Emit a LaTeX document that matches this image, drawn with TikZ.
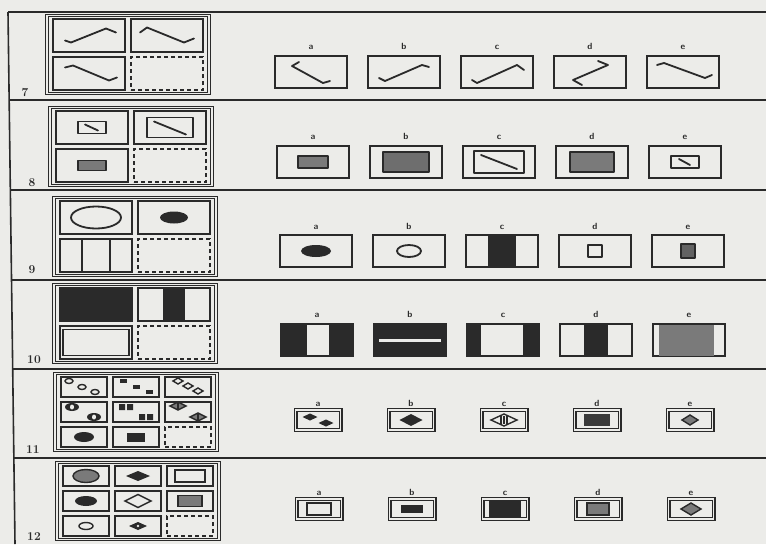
\documentclass[tikz,border=0pt]{standalone}
\usepackage{tikz}
\usetikzlibrary{positioning,fit}
\definecolor{paper}{HTML}{ECECE9}
\definecolor{ink}{HTML}{2A2A2A}
\definecolor{tone}{HTML}{7A7A7A}
\tikzset{
  rule/.style={draw=ink, line width=1.2pt},
  mframe/.style={draw=ink, line width=1.3pt, double=paper, double distance=1.3pt, inner xsep=5pt, inner ysep=2.5pt},
  cellbox/.style={draw=ink, line width=2pt, inner sep=0pt},
  cellbig/.style={cellbox, minimum width=72pt, minimum height=33pt},
  cellsm/.style={cellbox, minimum width=46pt, minimum height=20pt},
  emptycell/.style={dash pattern=on 4pt off 3pt},
  ans/.style={cellbox, minimum width=72pt, minimum height=32pt},
  anssm/.style={draw=ink, line width=1.4pt, double=paper, double distance=1.2pt, inner sep=0pt, minimum width=45pt, minimum height=20pt},
  lab/.style={font=\small\sffamily\bfseries, text=ink, inner sep=0pt},
  num/.style={font=\large\bfseries, text=ink, inner sep=0pt},
  wire/.style={draw=ink, line width=1.8pt, line join=round, line cap=round},
  fine/.style={draw=ink, line width=1.4pt},
}

\begin{document}
\begin{tikzpicture}[x=1pt, y=-1pt]
  \useasboundingbox (0,0) rectangle (766,544);
  \fill[paper] (0,0) rectangle (766,544);
  % page rules
  \coordinate (top) at (8,12);
  \coordinate (bot) at (15,544);
  \draw[rule, line width=1.6pt] (top) -- (bot);
  \draw[rule] (top) -- (766,12);
  \foreach \y/\x in {100/9, 190/10, 280/12, 369/13, 458/14}
    \draw[rule] (\x,\y) -- (766,\y);
  % item numbers
  \node[num] (n7) at (25,93) {7};
  \node[num] (n8) at (32,183) {8};
  \node[num] (n9) at (32,270) {9};
  \node[num] (n10) at (34,360) {10};
  \node[num] (n11) at (33,450) {11};
  \node[num] (n12) at (34,537) {12};
  % 2x2 matrices
  \foreach \r/\x/\y in {7/89/35.5, 8/92/127.5, 9/96/217.5, 10/96/304.5} {
    \node[cellbig] (c\r a) at (\x,\y) {};
    \node[cellbig, right=4pt of c\r a] (c\r b) {};
    \node[cellbig, below=3pt of c\r a] (c\r c) {};
    \node[cellbig, emptycell, right=4pt of c\r c] (c\r d) {};
    \node[mframe, fit=(c\r a)(c\r d)] (m\r) {};
  }
  % 3x3 matrices
  \foreach \r/\x/\y in {11/84/387, 12/86/476} {
    \node[cellsm] (c\r a) at (\x,\y) {};
    \node[cellsm, right=4pt of c\r a] (c\r b) {};
    \node[cellsm, right=4pt of c\r b] (c\r c) {};
    \node[cellsm, below=3pt of c\r a] (c\r d) {};
    \node[cellsm, right=4pt of c\r d] (c\r e) {};
    \node[cellsm, right=4pt of c\r e] (c\r f) {};
    \node[cellsm, below=3pt of c\r d] (c\r g) {};
    \node[cellsm, right=4pt of c\r g] (c\r h) {};
    \node[cellsm, emptycell, right=4pt of c\r h] (c\r i) {};
    \node[mframe, fit=(c\r a)(c\r i)] (m\r) {};
  }
  % answer boxes a-e
  \foreach \r/\x/\y/\s/\d in {7/311/72/ans/5pt, 8/313/162/ans/5pt, 9/316/251/ans/4pt,
      10/317/340/ans/5pt, 11/318/420/anssm/3pt, 12/319/509/anssm/3pt}
    \foreach \l [count=\i from 0] in {a,b,c,d,e} {
      \node[\s] (a\r\l) at ({\x+93*\i},\y) {};
      \node[lab, above=\d of a\r\l] (t\r\l) {\l};
    }

  % item 7
  \draw[wire] (c7a.center) +(-24,5) -- +(-18,7) -- +(17,-7) -- +(27,-3);
  \draw[wire] (c7b.center) +(-27,-3) -- +(-20,-8) -- +(17,7) -- +(27,3);
  \draw[wire] (c7c.center) +(-24,-6) -- +(-16,-8) -- +(20,7) -- +(28,4);
  \draw[wire] (a7a.center) +(-12,-10) -- +(-19,-6) -- +(12,11) -- +(19,9);
  \draw[wire] (a7b.center) +(-25,6) -- +(-19,9) -- +(18,-7) -- +(25,-5);
  \draw[wire] (a7c.center) +(-25,8) -- +(-20,11) -- +(20,-7) -- +(27,-2);
  \draw[wire] (a7d.center) +(8,-11) -- +(18,-7) -- +(-17,8) -- +(-8,13);
  \draw[wire] (a7e.center) +(-26,-7) -- +(-19,-9) -- +(22,6) -- +(29,3);

  % item 8
  \draw[wire] (c8a.center) +(-14,-6) rectangle +(14,6);
  \draw[wire] (c8a.center) +(-7,-3) -- +(6,3);
  \draw[wire] (c8b.center) +(-23,-10) rectangle +(23,10);
  \draw[wire] (c8b.center) +(-16,-6) -- +(16,7);
  \filldraw[wire, fill=tone] (c8c.center) +(-14,-5) rectangle +(14,5);
  \filldraw[wire, fill=tone] (a8a.center) +(-15,-6) rectangle +(15,6);
  \filldraw[wire, fill=tone!85!ink] (a8b.center) +(-23,-10) rectangle +(23,10);
  \draw[wire] (a8c.center) +(-25,-11) rectangle +(25,11);
  \draw[wire] (a8c.center) +(-18,-7) -- +(18,7);
  \filldraw[wire, fill=tone] (a8d.center) +(-22,-10) rectangle +(22,10);
  \draw[wire] (a8e.center) +(-14,-6) rectangle +(14,6);
  \draw[wire] (a8e.center) +(-6,-3) -- +(5,3);

  % item 9
  \draw[wire] (c9a.center) ellipse[x radius=25pt, y radius=11pt];
  \fill[ink] (c9b.center) ellipse[x radius=14pt, y radius=6pt];
  \draw[wire] (c9c.center) +(-14,-16) rectangle +(14,16);
  \fill[ink] (a9a.center) ellipse[x radius=15pt, y radius=6pt];
  \draw[wire] (a9b.center) ellipse[x radius=12pt, y radius=6pt];
  \filldraw[wire, fill=ink] (a9c.center) +(-13,-15.5) rectangle +(13,15.5);
  \draw[wire] (a9d.center) +(-7,-6) rectangle +(7,6);
  \filldraw[wire, fill=tone!70!ink] (a9e.center) +(-7,-7) rectangle +(7,7);

  % item 10
  \fill[ink] (c10a.center) +(-35,-15.5) rectangle +(35,15.5);
  \fill[ink] (c10b.center) +(-11,-15.5) rectangle +(11,15.5);
  \draw[fine] (c10c.center) +(-33,-13) rectangle +(33,13);
  \fill[ink] (a10a.center) +(-35,-15.5) rectangle +(-10,15.5);
  \fill[ink] (a10a.center) +(12,-15.5) rectangle +(35,15.5);
  \fill[ink] (a10b.center) +(-35,-15.5) rectangle +(35,15.5);
  \fill[paper] (a10b.center) +(-31,-1.5) rectangle +(31,1.5);
  \fill[ink] (a10c.center) +(-35,-15.5) rectangle +(-22,15.5);
  \fill[ink] (a10c.center) +(20,-15.5) rectangle +(35,15.5);
  \fill[ink] (a10d.center) +(-12,-15.5) rectangle +(12,15.5);
  \fill[tone] (a10e.center) +(-30,-15.5) rectangle +(25,15.5);

  % item 11
  \foreach \x/\y in {-15/-6, -2/0, 11/5}
    \draw[fine] (c11a.center) ++(\x,\y) ellipse[x radius=4pt, y radius=2.5pt];
  \foreach \x/\y in {-13/-6, 0/0, 13/5}
    \fill[ink] (c11b.center) ++(\x,\y) +(-3.5,-2) rectangle +(3.5,2);
  \foreach \x/\y in {-10/-6, 0/-1, 10/4}
    \draw[fine] (c11c.center) ++(\x,\y) +(-5,0) -- +(0,-3) -- +(5,0) -- +(0,3) -- cycle;
  \foreach \x/\y in {-12/-5, 10/5} {
    \fill[ink] (c11d.center) ++(\x,\y) ellipse[x radius=7pt, y radius=4pt];
    \fill[paper] (c11d.center) ++(\x,\y) ellipse[x radius=2pt, y radius=2.5pt];
  }
  \foreach \x/\y in {-10/-5, 10/5}
    \fill[ink] (c11e.center) ++(\x,\y) +(-7,-3) rectangle +(-1,3) +(1,-3) rectangle +(7,3);
  \foreach \x/\y in {-10/-6, 10/5} {
    \filldraw[fine, fill=tone] (c11f.center) ++(\x,\y) +(-8,0) -- +(0,-4) -- +(8,0) -- +(0,4) -- cycle;
    \draw[fine] (c11f.center) ++(\x,\y) +(0,-4) -- +(0,4);
  }
  \fill[ink] (c11g.center) ellipse[x radius=10pt, y radius=5pt];
  \fill[ink] (c11h.center) +(-9,-4.5) rectangle +(9,4.5);
  \foreach \x/\y in {-8/-3, 8/3}
    \fill[ink] (a11a.center) ++(\x,\y) +(-7.5,0) -- +(0,-3.5) -- +(7.5,0) -- +(0,3.5) -- cycle;
  \fill[ink] (a11b.center) +(-11.5,0) -- +(0,-6) -- +(11.5,0) -- +(0,6) -- cycle;
  \draw[fine] (a11c.center) +(-13,0) -- +(0,-6) -- +(13,0) -- +(0,6) -- cycle;
  \foreach \x in {-3,0,3}
    \draw[fine] (a11c.center) +(\x,-4) -- +(\x,4);
  \fill[ink!80!tone] (a11d.center) +(-13,-6) rectangle +(13,6);
  \filldraw[fine, fill=tone] (a11e.center) +(-8,0) -- +(0,-5) -- +(8,0) -- +(0,5) -- cycle;

  % item 12
  \filldraw[fine, fill=tone] (c12a.center) ellipse[x radius=13pt, y radius=6.5pt];
  \fill[ink] (c12b.center) +(-12,0) -- +(0,-5) -- +(12,0) -- +(0,5) -- cycle;
  \draw[fine] (c12c.center) +(-15,-6) rectangle +(15,6);
  \fill[ink] (c12d.center) ellipse[x radius=11pt, y radius=5pt];
  \draw[fine] (c12e.center) +(-13,0) -- +(0,-6.5) -- +(13,0) -- +(0,6.5) -- cycle;
  \filldraw[fine, fill=tone] (c12f.center) +(-12,-5.5) rectangle +(12,5.5);
  \draw[fine] (c12g.center) ellipse[x radius=7pt, y radius=3.5pt];
  \fill[ink] (c12h.center) +(-9,0) -- +(0,-4) -- +(9,0) -- +(0,4) -- cycle;
  \fill[paper] (c12h.center) circle[radius=1.3pt];
  \draw[fine] (a12a.center) +(-12,-6) rectangle +(12,6);
  \fill[ink] (a12b.center) +(-11,-4) rectangle +(11,4);
  \fill[ink] (a12c.center) +(-16,-8) rectangle +(16,8);
  \filldraw[fine, fill=tone] (a12d.center) +(-11,-6) rectangle +(11,6);
  \filldraw[fine, fill=tone] (a12e.center) +(-10,0) -- +(0,-6) -- +(10,0) -- +(0,6) -- cycle;
\end{tikzpicture}
\end{document}
